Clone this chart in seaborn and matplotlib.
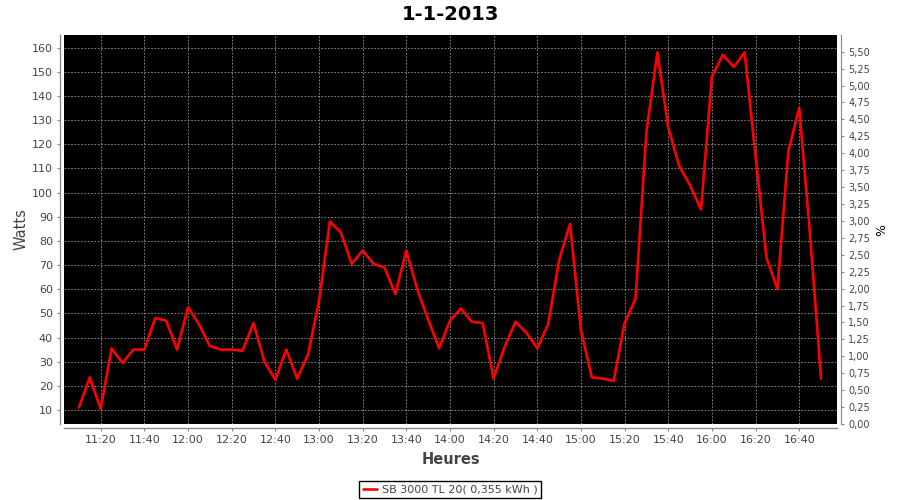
import matplotlib
matplotlib.use("Agg")
import matplotlib.pyplot as plt
import seaborn as sns
import pandas as pd
from matplotlib.ticker import FuncFormatter, FixedLocator

# ---- data ----
times = ["11:10", "11:15", "11:20", "11:25", "11:30", "11:35", "11:40", "11:45", "11:50", "11:55",
         "12:00", "12:05", "12:10", "12:15", "12:20", "12:25", "12:30", "12:35", "12:40", "12:45",
         "12:50", "12:55", "13:00", "13:05", "13:10", "13:15", "13:20", "13:25", "13:30", "13:35",
         "13:40", "13:45", "13:50", "13:55", "14:00", "14:05", "14:10", "14:15", "14:20", "14:25",
         "14:30", "14:35", "14:40", "14:45", "14:50", "14:55", "15:00", "15:05", "15:10", "15:15",
         "15:20", "15:25", "15:30", "15:35", "15:40", "15:45", "15:50", "15:55", "16:00", "16:05",
         "16:10", "16:15", "16:20", "16:25", "16:30", "16:35", "16:40", "16:45", "16:50"]
watts = [11, 23.5, 10.5, 35.5, 29.5, 35, 35, 48, 47, 35,
         52.5, 45.5, 36.5, 35, 35, 34.5, 46, 30, 22.5, 35,
         23, 33, 55, 88, 83.5, 70.5, 76, 70.5, 69, 58,
         76, 60, 47.5, 35.5, 47, 52, 46.5, 46, 23, 36,
         46.5, 42, 35.5, 45.5, 72, 87, 43, 23.5, 23, 22,
         46, 56, 125, 158, 127, 111, 103, 93, 148, 157,
         152, 158, 115, 73, 60, 117, 135, 82, 23]
x_tick_labels = ["11:20", "11:40", "12:00", "12:20", "12:40", "13:00", "13:20", "13:40", "14:00",
                 "14:20", "14:40", "15:00", "15:20", "15:40", "16:00", "16:20", "16:40"]
left_ticks = [10, 20, 30, 40, 50, 60, 70, 80, 90, 100, 110, 120, 130, 140, 150, 160]
right_ticks = [0.0, 0.25, 0.5, 0.75, 1.0, 1.25, 1.5, 1.75, 2.0, 2.25, 2.5, 2.75,
               3.0, 3.25, 3.5, 3.75, 4.0, 4.25, 4.5, 4.75, 5.0, 5.25, 5.5]
title = "1-1-2013"
series_label = "SB 3000 TL 20( 0,355 kWh )"


def to_min(s):
    h, m = s.split(":")
    return int(h) * 60 + int(m)


df = pd.DataFrame({"t": [to_min(t) for t in times], "w": watts})
xticks = [to_min(t) for t in x_tick_labels]

sns.set_style("white")
plt.rcParams["font.family"] = ["DejaVu Sans"]

fig = plt.figure(figsize=(9, 5), dpi=100)
ax = fig.add_axes([64 / 900, 1 - 424 / 500, (837 - 64) / 900, (424 - 35) / 500])
ax.set_facecolor("black")

sns.lineplot(data=df, x="t", y="w", ax=ax, color="#ff0000", linewidth=1.9, label=series_label,
             legend=False)

ax.set_xlim(663.2, 1017.3)
ax.set_ylim(4.2, 165.2)
ax.xaxis.set_major_locator(FixedLocator(xticks))
ax.set_xticklabels(x_tick_labels)
ax.yaxis.set_major_locator(FixedLocator(left_ticks))
ax.set_yticklabels([str(v) for v in left_ticks])

ax.grid(True, color="#9a9a9a", linestyle=(0, (2, 2)), linewidth=0.6)
ax.set_axisbelow(True)

gray = "#888888"
txt = "#444444"
for s in ["top", "right"]:
    ax.spines[s].set_visible(False)
for s in ["left", "bottom"]:
    ax.spines[s].set_position(("outward", 3))
    ax.spines[s].set_color(gray)
    ax.spines[s].set_linewidth(1.0)
ax.tick_params(axis="both", colors=gray, labelcolor=txt, labelsize=8, length=2, width=0.8,
               direction="out", left=True, bottom=True, pad=3)

ax.set_xlabel("Heures", fontsize=10.5, color=txt, fontweight="bold", labelpad=5)
ax.set_ylabel("Watts", fontsize=10.5, color=txt, labelpad=2)

ax2 = ax.twinx()
ax2.set_ylim(0, 5.746)
ax2.yaxis.set_major_locator(FixedLocator(right_ticks))
ax2.yaxis.set_major_formatter(FuncFormatter(lambda v, p: f"{v:.2f}".replace(".", ",")))
for s in ["top", "left", "bottom"]:
    ax2.spines[s].set_visible(False)
ax2.spines["right"].set_position(("outward", 3))
ax2.spines["right"].set_color(gray)
ax2.tick_params(axis="y", colors=gray, labelcolor=txt, labelsize=7, length=2, width=0.8, pad=3)
ax2.set_ylabel("%", fontsize=9, color="black", labelpad=4)

fig.suptitle(title, x=0.5, y=0.99, fontsize=14, fontweight="bold", color="black", va="top")

h, l = ax.get_legend_handles_labels()
leg = fig.legend(h, l, loc="lower center", bbox_to_anchor=(0.5, 0.0), fontsize=8,
                 frameon=True, fancybox=False, edgecolor="black", framealpha=1,
                 handlelength=1.3, handletextpad=0.4, borderpad=0.3, borderaxespad=0.2)
leg.get_frame().set_linewidth(1.0)
for t in leg.get_texts():
    t.set_color(txt)

fig.savefig("out.png", dpi=100, facecolor="white")
